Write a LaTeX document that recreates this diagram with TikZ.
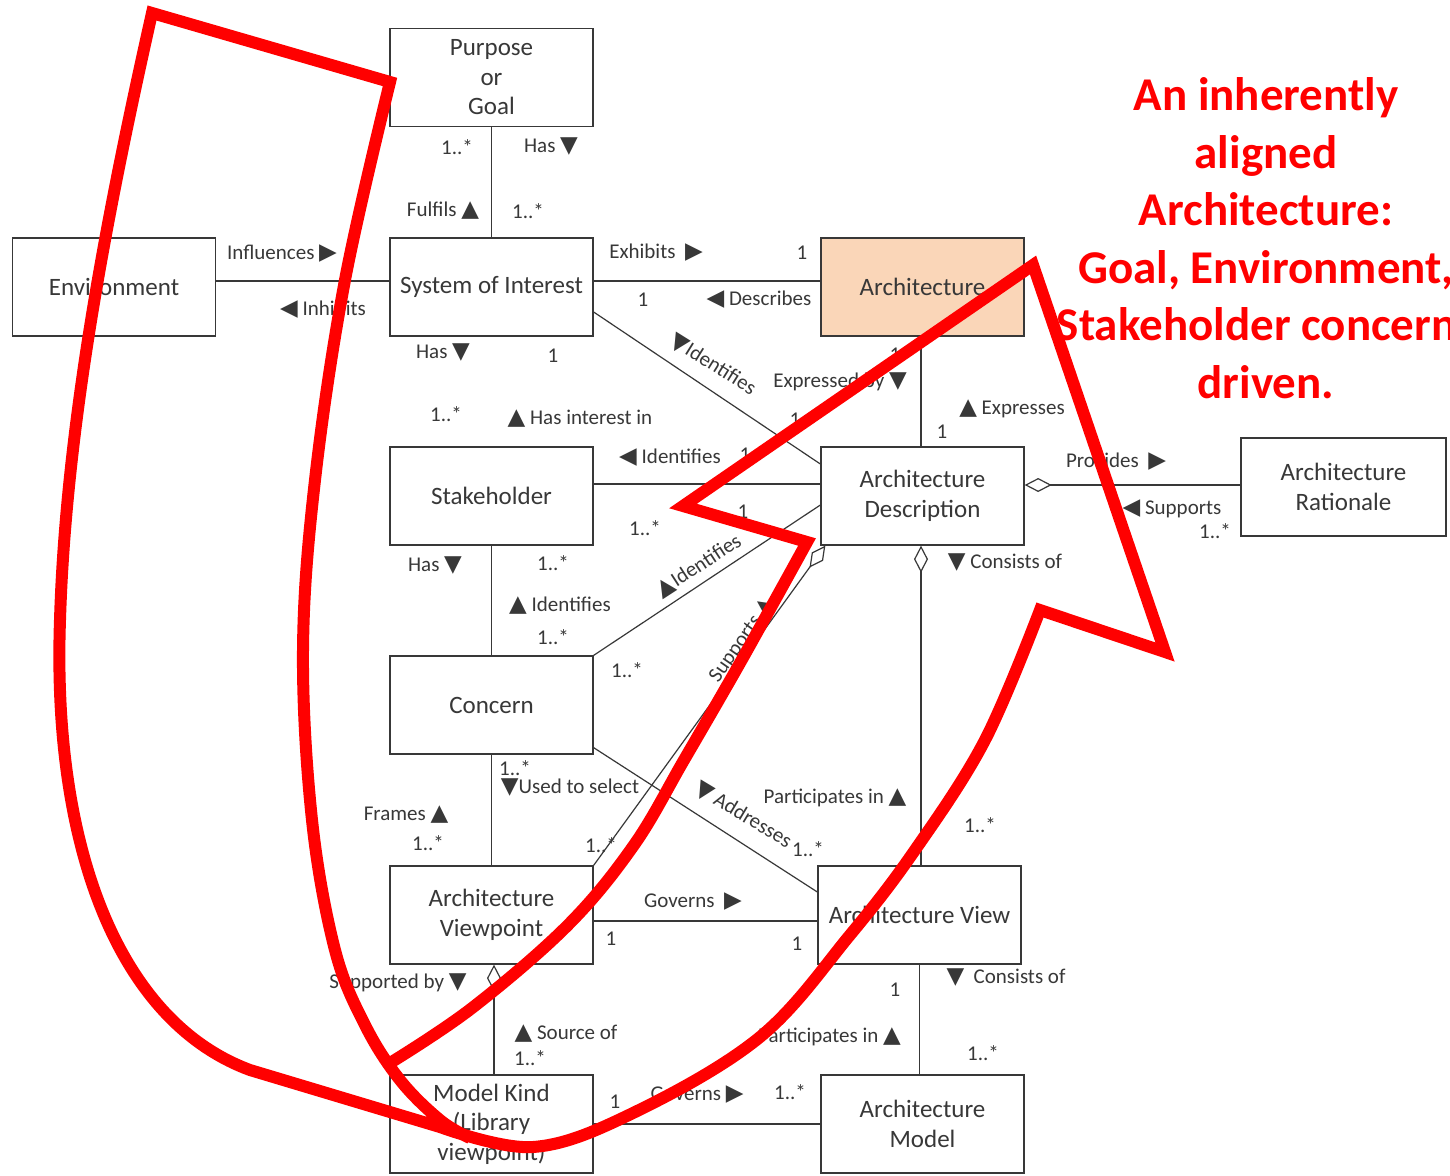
\documentclass[tikz,border=0pt]{standalone}
\usepackage{fontspec}
\setmainfont{Carlito}
\newfontfamily\symfont{DejaVu Sans}
\usetikzlibrary{arrows.meta,calc}
\definecolor{ink}{HTML}{383838}
\definecolor{peach}{HTML}{FAD6B8}
\definecolor{alert}{HTML}{FF0000}
% direction triangles used in the association labels
\newcommand\tU{{\symfont\fontsize{23}{23}\selectfont ▲}}
\newcommand\tD{{\symfont\fontsize{23}{23}\selectfont ▼}}
\newcommand\tL{{\symfont\fontsize{23}{23}\selectfont ◀}}
\newcommand\tR{{\symfont\fontsize{23}{23}\selectfont ▶}}
\begin{document}
\begin{tikzpicture}[x=1pt,y=-1pt,
  box/.style={draw=ink, line width=1.3pt, minimum width=203pt, minimum height=98pt,
    inner sep=2pt, align=center, text=ink, font=\fontsize{25}{29.5}\selectfont},
  lbl/.style={text=ink, inner sep=0pt, font=\fontsize{21}{24}\selectfont},
  conn/.style={draw=ink, line width=1.2pt},
  agg/.style={conn, {Diamond[open, length=27pt, width=14pt]}-},
  redline/.style={draw=alert, line width=12pt, line join=miter, line cap=butt}]
\useasboundingbox (0,0) rectangle (1450,1175);
\clip (0,0) rectangle (1450,1175);
\fill[white] (0,0) rectangle (1450,1175);

% classes
\node[box] (goal) at (491.5,77.5) {Purpose\\or\\Goal};
\node[box] (env) at (114,287) {Environment};
\node[box] (soi) at (491.5,287) {System of Interest};
\node[box, fill=peach] (arch) at (922.5,287) {Architecture};
\node[box] (stake) at (491.5,496) {Stakeholder};
\node[box] (ad) at (922.5,496) {Architecture\\Description};
\node[box, minimum width=205pt] (rat) at (1343.5,487) {Architecture\\Rationale};
\node[box] (concern) at (491.5,705) {Concern};
\node[box] (vp) at (491.5,915) {Architecture\\Viewpoint};
\node[box] (view) at (919.5,915) {Architecture View};
\node[box] (mk) at (491.5,1124) {Model Kind\\(Library\\viewpoint)};
\node[box] (model) at (922.5,1124) {Architecture\\Model};

% associations
\draw[conn] (goal.south) -- (soi.north);
\draw[conn] ($(env.east)+(0,-6)$) -- ($(soi.west)+(0,-6)$);
\draw[conn] ($(soi.east)+(0,-6)$) -- ($(arch.west)+(0,-6)$);
\draw[conn] ($(soi.east)+(0,25)$) -- ($(ad.west)+(0,-32)$);
\draw[conn] ($(arch.south)+(-1.5,0)$) -- ($(ad.north)+(-1.5,0)$);
\draw[conn] ($(stake.east)+(0,-12)$) -- ($(ad.west)+(0,-12)$);
\draw[conn] (stake.south) -- (concern.north);
\draw[conn] (concern.north east) -- ($(ad.west)+(0,9)$);
\draw[agg] ($(ad.south west)+(5,0)$) -- (vp.north east);
\draw[agg] ($(ad.south)+(-1.5,0)$) -- ($(ad.south |- view.north)+(-1.5,0)$);
\draw[agg] ($(ad.east)+(0,-11)$) -- ($(rat.west)+(0,-2)$);
\draw[conn] (concern.south) -- (vp.north);
\draw[conn] ($(concern.south east)+(0,-7)$) -- ($(view.west)+(0,-23)$);
\draw[conn] ($(vp.east)+(0,6)$) -- ($(view.west)+(0,6)$);
\draw[agg] ($(vp.south)+(2.5,0)$) -- ($(mk.north)+(2.5,0)$);
\draw[conn] (view.south) -- (view.south |- model.north);
\draw[conn] (mk.east) -- (model.west);

% role names and multiplicities
\node[lbl] (m1) at (457,147) {1..*};
\node[lbl] (r1) at (551,147) {Has \tD};
\node[lbl] (r2) at (443,211) {Fulfils \tU};
\node[lbl] (m2) at (528,211) {1..*};
\node[lbl] (r3) at (282,254) {Influences \tR};
\node[lbl] (r4) at (323,310) {\tL\ Inhibits};
\node[lbl] (r5) at (656,253) {Exhibits \ \tR};
\node[lbl] (m3) at (802,253) {1};
\node[lbl] (m4) at (643,300) {1};
\node[lbl] (r6) at (759,300) {\tL\ Describes};
\node[lbl, rotate=-32] (r7) at (713,365) {\tD Identifies};
\node[lbl] (r8) at (840,382) {Expressed by \tD};
\node[lbl] (m5) at (895,355) {1};
\node[lbl] (r9) at (1012,409) {\tU\ Expresses};
\node[lbl] (m6) at (942,432) {1};
\node[lbl] (m7) at (795,420) {1};
\node[lbl] (r10) at (443,353) {Has \tD};
\node[lbl] (m8) at (553,356) {1};
\node[lbl] (m9) at (446,414) {1..*};
\node[lbl] (r11) at (580,419) {\tU\ Has interest in};
\node[lbl] (r12) at (670,458) {\tL\ Identifies};
\node[lbl] (m10) at (745,455) {1};
\node[lbl] (m11) at (743,512) {1};
\node[lbl] (m12) at (645,528) {1..*};
\node[lbl, rotate=33] (r13) at (699,566) {\tU Identifies};
\node[lbl] (m13) at (627,670) {1..*};
\node[lbl, rotate=55] (r14) at (742,640) {Supports \tU};
\node[lbl] (r15) at (1116,462) {Provides \ \tR};
\node[lbl] (r16) at (1172,509) {\tL\ Supports};
\node[lbl] (m14) at (1215,531) {1..*};
\node[lbl] (r17) at (1005,563) {\tD\ Consists of};
\node[lbl] (r18) at (435,566) {Has \tD};
\node[lbl] (m15) at (553,563) {1..*};
\node[lbl] (r19) at (560,606) {\tU\ Identifies};
\node[lbl] (m16) at (553,637) {1..*};
\node[lbl] (m17) at (515,768) {1..*};
\node[lbl] (r20) at (570,788) {\tD Used to select};
\node[lbl] (r21) at (406,815) {Frames \tU};
\node[lbl] (m18) at (428,843) {1..*};
\node[lbl] (m19) at (601,845) {1..*};
\node[lbl, rotate=-31] (r22) at (743,815) {\tD\ Addresses};
\node[lbl] (r23) at (835,798) {Participates in \tU};
\node[lbl] (m20) at (980,825) {1..*};
\node[lbl] (m21) at (808,849) {1..*};
\node[lbl] (r24) at (693,902) {Governs \ \tR};
\node[lbl] (m22) at (611,939) {1};
\node[lbl] (m23) at (797,944) {1};
\node[lbl] (r25) at (398,983) {Supported by \tD};
\node[lbl] (r26) at (566,1034) {\tU\ Source of};
\node[lbl] (m24) at (530,1058) {1..*};
\node[lbl] (r27) at (1006,978) {\tD\ \ Consists of};
\node[lbl] (m25) at (895,990) {1};
\node[lbl, anchor=east] (r28) at (901,1037) {Participates in \tU};
\node[lbl] (m26) at (983,1053) {1..*};
\node[lbl] (m27) at (615,1102) {1};
\node[lbl] (r29) at (697,1095) {Governs \tR};
\node[lbl] (m28) at (790,1092) {1..*};

% the big hand-drawn arrow looping round the left-hand classes
\draw[redline]
  plot[smooth, tension=0.6] coordinates {(390,1063) (472,1008) (568,925) (634,845) (684,760) (736,670) (775,600) (807,542)}
  -- (683,506) -- (1033,265) -- (1165,652)
  -- plot[smooth, tension=0.6] coordinates {(1040,610) (985,740) (915,850) (850,935) (760,1037) (633,1113) (533,1147) (440,1127)}
  -- (250,1070) .. controls (120,1022) and (52,850) .. (60,620)
  .. controls (66,420) and (110,200) .. (152,13)
  -- plot[smooth, tension=0.6] coordinates {(390,82) (345,280) (315,480) (303,650) (312,820) (335,950) (365,1025) (400,1080) (440,1120) (470,1138)};

\node[text=alert, align=center, inner sep=0pt,
  font=\bfseries\fontsize{47}{57.5}\selectfont] (slogan) at (1266,238)
  {An inherently\\aligned\\Architecture:\\Goal, Environment,\\Stakeholder concerns\\driven.};
\end{tikzpicture}
\end{document}
